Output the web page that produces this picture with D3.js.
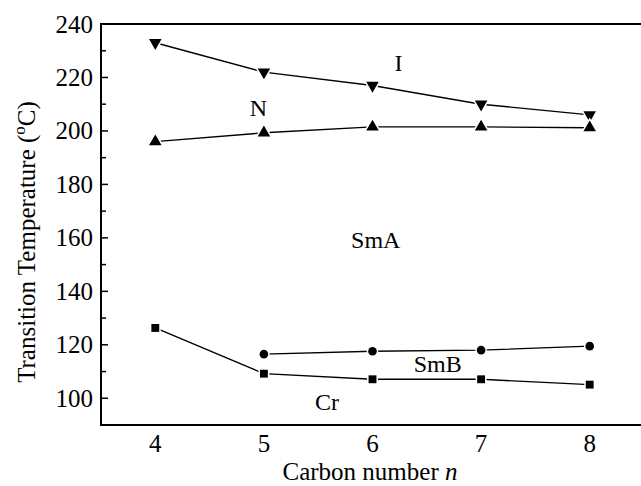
<!DOCTYPE html>
<html>
<head>
<meta charset="utf-8">
<script src="https://cdn.jsdelivr.net/npm/d3@7"></script>
<style>
  body { margin: 0; background: #fff; }
  text { font-family: "Liberation Serif", "Times New Roman", serif; fill: #000; }
</style>
</head>
<body>
<svg id="chart" width="641" height="486"></svg>
<script>
// ---- data ----
var carbon = [4, 5, 6, 7, 8];
var isoTemp = [233, 222, 217, 210, 206];     // I, down triangles
var nemTemp = [196, 199.3, 201.5, 201.5, 201.2]; // N, up triangles
var smbN = [5, 6, 7, 8];
var smbTemp = [116.5, 117.6, 118, 119.5];     // SmB, circles
var crTemp = [126.3, 109.2, 107.1, 107.1, 105.1]; // Cr, squares
var yTicks = [100, 120, 140, 160, 180, 200, 220, 240];
var yMinor = [110, 130, 150, 170, 190, 210, 230];
var phaseLabels = [
  {name: "I", n: 6.24, t: 222.4},
  {name: "N", n: 4.95, t: 205.6},
  {name: "SmA", n: 6.03, t: 156.2},
  {name: "SmB", n: 6.6, t: 109.8},
  {name: "Cr", n: 5.58, t: 95.6}
];

var svg = d3.select("#chart");
var pL = 101, pR = 644, pT = 24, pB = 425;

var x = d3.scaleLinear().domain([3.5, 8.5]).range([pL, pR]);
var y = d3.scaleLinear().domain([90, 240]).range([pB, pT]);

// frame (right side falls outside the picture)
svg.append("path")
  .attr("d", "M" + pR + "," + pT + "H" + pL + "V" + pB + "H" + pR)
  .attr("fill", "none")
  .attr("stroke", "#000")
  .attr("stroke-width", 2);

// y ticks, pointing inward
svg.selectAll(".ymaj").data(yTicks).enter().append("line")
  .attr("x1", pL).attr("x2", pL + 7)
  .attr("y1", function(d) { return y(d); })
  .attr("y2", function(d) { return y(d); })
  .attr("stroke", "#000").attr("stroke-width", 1.5);

svg.selectAll(".ymin").data(yMinor).enter().append("line")
  .attr("x1", pL).attr("x2", pL + 5)
  .attr("y1", function(d) { return y(d); })
  .attr("y2", function(d) { return y(d); })
  .attr("stroke", "#000").attr("stroke-width", 1.5);

svg.selectAll(".ylab").data(yTicks).enter().append("text")
  .attr("x", pL - 8)
  .attr("y", function(d) { return y(d) + 8.5; })
  .attr("text-anchor", "end")
  .style("font-size", "25px")
  .text(function(d) { return d; });

svg.selectAll(".xlab").data(carbon).enter().append("text")
  .attr("x", function(d) { return x(d); })
  .attr("y", 452)
  .attr("text-anchor", "middle")
  .style("font-size", "25px")
  .text(function(d) { return d; });

// axis titles
var xt = svg.append("text")
  .attr("x", 370)
  .attr("y", 480)
  .attr("text-anchor", "middle")
  .style("font-size", "25px");
xt.append("tspan").text("Carbon number ");
xt.append("tspan").style("font-style", "italic").text("n");

var yt = svg.append("text")
  .attr("transform", "translate(35,242) rotate(-90)")
  .attr("text-anchor", "middle")
  .style("font-size", "25px");
yt.append("tspan").text("Transition Temperature (");
yt.append("tspan").attr("dy", -10).style("font-size", "17px").text("o");
yt.append("tspan").attr("dy", 10).text("C)");

// ---- series ----
var line = d3.line()
  .x(function(d) { return x(d[0]); })
  .y(function(d) { return y(d[1]); });

function series(ns, ts, shape, size) {
  var pts = d3.zip(ns, ts);
  svg.append("path")
    .attr("d", line(pts))
    .attr("fill", "none")
    .attr("stroke", "#000")
    .attr("stroke-width", 1.4);
  svg.selectAll(null).data(pts).enter().append("path")
    .attr("d", d3.symbol().type(shape.type).size(size))
    .attr("transform", function(d) {
      return "translate(" + x(d[0]) + "," + y(d[1]) + ")" + (shape.flip ? " rotate(180)" : "");
    })
    .attr("fill", "#000")
    .attr("stroke", "#fff")
    .attr("stroke-width", 3)
    .style("paint-order", "stroke");
}

series(carbon, isoTemp, {type: d3.symbolTriangle, flip: true}, 68);
series(carbon, nemTemp, {type: d3.symbolTriangle, flip: false}, 68);
series(smbN, smbTemp, {type: d3.symbolCircle}, 58);
series(carbon, crTemp, {type: d3.symbolSquare}, 62);

// phase labels
svg.selectAll(".phase").data(phaseLabels).enter().append("text")
  .attr("x", function(d) { return x(d.n); })
  .attr("y", function(d) { return y(d.t); })
  .attr("text-anchor", "middle")
  .style("font-size", "24px")
  .text(function(d) { return d.name; });
</script>
</body>
</html>
